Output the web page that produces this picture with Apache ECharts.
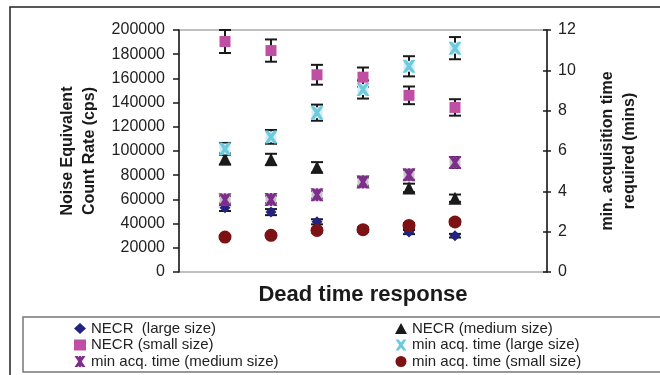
<!DOCTYPE html>
<html>
<head>
<meta charset="utf-8">
<script src="https://cdn.jsdelivr.net/npm/echarts@6/dist/echarts.min.js"></script>
<style>
    html, body { margin: 0; padding: 0; background: #fff; }
    #chart { width: 660px; height: 375px; }
</style>
</head>
<body>
<div id="chart"></div>
<script>
// measurement positions along the (hidden) x axis
var xs = [1, 2, 3, 4, 5, 6];

// NECR (cps) - left axis
var necrLarge = [53000, 49500, 41500, 35000, 33000, 30000];
var necrLargeErr = [2600, 2500, 2100, 1800, 1700, 1500];
var necrMedium = [93500, 93000, 86500, 75000, 69500, 61000];
var necrMediumErr = [4700, 4700, 4300, 3700, 3500, 3000];
var necrSmall = [190500, 183000, 163000, 161000, 146000, 136000];
var necrSmallErr = [9500, 9200, 8200, 8000, 7300, 6800];

// min. acquisition time (mins) - right axis
var acqLarge = [6.1, 6.7, 7.9, 9.05, 10.2, 11.1];
var acqLargeErr = [0.3, 0.34, 0.4, 0.45, 0.5, 0.55];
var acqMedium = [3.58, 3.6, 3.83, 4.46, 4.82, 5.43];
var acqMediumErr = [0.18, 0.18, 0.19, 0.22, 0.24, 0.27];
var acqSmall = [1.73, 1.82, 2.06, 2.1, 2.31, 2.48];
var acqSmallErr = [0.09, 0.09, 0.1, 0.1, 0.12, 0.12];

// axis ranges
var leftRange = [0, 200000], leftStep = 20000;
var rightRange = [0, 12], rightStep = 2;
var xRange = [0, 8];

var FONT = 'Liberation Sans';
var INK = '#1a1a1a';

// filled X and X-with-bar marker shapes
var xPath = 'path://M0,0 L2.8,0 L5,2.6 L7.2,0 L10,0 L6.6,5 L10,10 L7.2,10 L5,7.4 L2.8,10 L0,10 L3.4,5 Z';
var starPath = xPath + ' M3.9,0 L6.1,0 L6.1,10 L3.9,10 Z';

function pts(vals) {
    return xs.map(function (x, i) { return [x, vals[i]]; });
}
function errPts(vals, errs) {
    return xs.map(function (x, i) { return [x, vals[i] - errs[i], vals[i] + errs[i]]; });
}

// error bar: vertical line with caps
function errorBar(params, api) {
    var x = api.value(0);
    var lo = api.coord([x, api.value(1)]);
    var hi = api.coord([x, api.value(2)]);
    var w = 6;
    var st = { stroke: INK, lineWidth: 2 };
    return {
        type: 'group',
        children: [
            { type: 'line', shape: { x1: lo[0], y1: lo[1], x2: hi[0], y2: hi[1] }, style: st },
            { type: 'line', shape: { x1: hi[0] - w, y1: hi[1], x2: hi[0] + w, y2: hi[1] }, style: st },
            { type: 'line', shape: { x1: lo[0] - w, y1: lo[1], x2: lo[0] + w, y2: lo[1] }, style: st }
        ]
    };
}

function errSeries(vals, errs, axis) {
    return {
        type: 'custom',
        yAxisIndex: axis,
        renderItem: errorBar,
        encode: { x: 0, y: [1, 2] },
        data: errPts(vals, errs),
        silent: true
    };
}
function dotSeries(name, vals, axis, symbol, size, color) {
    return {
        name: name,
        type: 'scatter',
        yAxisIndex: axis,
        symbol: symbol,
        symbolSize: size,
        itemStyle: { color: color, opacity: 1 },
        data: pts(vals)
    };
}
// pale square behind the X-type markers
function backSeries(vals, axis, color) {
    return {
        type: 'scatter',
        yAxisIndex: axis,
        symbol: 'rect',
        symbolSize: 11,
        itemStyle: { color: color, opacity: 1 },
        data: pts(vals),
        silent: true
    };
}

var myChart = echarts.init(document.getElementById('chart'));

var legendText = { fontFamily: FONT, fontSize: 15, color: '#222', lineHeight: 14 };

var option = {
    animation: false,
    grid: {
        left: 179, right: 113, top: 30, bottom: 103,
        show: true,
        borderColor: '#c0c0c0',
        borderWidth: 2
    },
    legend: [{
        orient: 'vertical',
        left: 74, top: 321, height: 60, padding: 0,
        itemWidth: 12, itemHeight: 11, itemGap: 1.5,
        textStyle: legendText,
        data: ['NECR  (large size)', 'NECR (small size)', 'min acq. time (medium size)']
    }, {
        orient: 'vertical',
        left: 395, top: 321, height: 60, padding: 0,
        itemWidth: 12, itemHeight: 11, itemGap: 1.5,
        textStyle: legendText,
        data: ['NECR (medium size)', 'min acq. time (large size)', 'min acq. time (small size)']
    }],
    xAxis: {
        type: 'value',
        min: xRange[0], max: xRange[1],
        axisLine: { show: false },
        axisTick: { show: false },
        axisLabel: { show: false },
        splitLine: { show: false },
        name: 'Dead time response',
        nameLocation: 'middle',
        nameGap: 12,
        nameTextStyle: { fontFamily: FONT, fontSize: 22, fontWeight: 'bold', color: INK, verticalAlign: 'top' }
    },
    yAxis: [{
        type: 'value',
        position: 'left',
        min: leftRange[0], max: leftRange[1], interval: leftStep,
        axisLine: { show: true, lineStyle: { color: INK, width: 1.5 } },
        axisTick: { show: true, length: 6, lineStyle: { color: INK, width: 1.5 } },
        axisLabel: { fontFamily: FONT, fontSize: 16, color: '#222', margin: 14,
            formatter: function (v) { return String(v); } },
        splitLine: { show: false },
        name: 'Noise Equivalent\nCount Rate (cps)',
        nameLocation: 'middle',
        nameRotate: 90,
        nameGap: 74,
        nameTextStyle: { fontFamily: FONT, fontSize: 16, fontWeight: 'bold', color: INK, lineHeight: 22 }
    }, {
        type: 'value',
        position: 'right',
        min: rightRange[0], max: rightRange[1], interval: rightStep,
        axisLine: { show: true, lineStyle: { color: INK, width: 1.5 } },
        axisTick: { show: true, length: 4, lineStyle: { color: INK, width: 1.5 } },
        axisLabel: { fontFamily: FONT, fontSize: 16, color: '#222', margin: 11 },
        splitLine: { show: false },
        name: 'min. acquisition time\nrequired (mins)',
        nameLocation: 'middle',
        nameRotate: 90,
        nameGap: 50,
        nameTextStyle: { fontFamily: FONT, fontSize: 16, fontWeight: 'bold', color: INK, lineHeight: 22 }
    }, {
        // inner half of the crossing ticks on the right axis
        type: 'value',
        position: 'right',
        min: rightRange[0], max: rightRange[1], interval: rightStep,
        axisLine: { show: false },
        axisTick: { show: true, inside: true, length: 4, lineStyle: { color: INK, width: 1.5 } },
        axisLabel: { show: false },
        splitLine: { show: false }
    }],
    graphic: [{
        type: 'rect',
        z: -10,
        shape: { x: 10, y: 7, width: 700, height: 420 },
        style: { fill: 'none', stroke: '#222', lineWidth: 1.5 }
    }, {
        type: 'rect',
        z: -10,
        shape: { x: 23, y: 317, width: 680, height: 55 },
        style: { fill: 'none', stroke: '#777', lineWidth: 1.5 }
    }],
    series: [
        errSeries(necrLarge, necrLargeErr, 0),
        dotSeries('NECR  (large size)', necrLarge, 0, 'diamond', 11, '#222283'),
        errSeries(necrMedium, necrMediumErr, 0),
        dotSeries('NECR (medium size)', necrMedium, 0, 'triangle', 13, INK),
        errSeries(necrSmall, necrSmallErr, 0),
        dotSeries('NECR (small size)', necrSmall, 0, 'rect', 11, '#bf4fa2'),
        errSeries(acqLarge, acqLargeErr, 1),
        backSeries(acqLarge, 1, '#d2ecf3'),
        dotSeries('min acq. time (large size)', acqLarge, 1, xPath, 13, '#6ccbdc'),
        errSeries(acqMedium, acqMediumErr, 1),
        backSeries(acqMedium, 1, '#c6c6c6'),
        dotSeries('min acq. time (medium size)', acqMedium, 1, starPath, 13, '#7e2d8c'),
        errSeries(acqSmall, acqSmallErr, 1),
        dotSeries('min acq. time (small size)', acqSmall, 1, 'circle', 13, '#7d1214')
    ]
};

myChart.setOption(option);
</script>
</body>
</html>
